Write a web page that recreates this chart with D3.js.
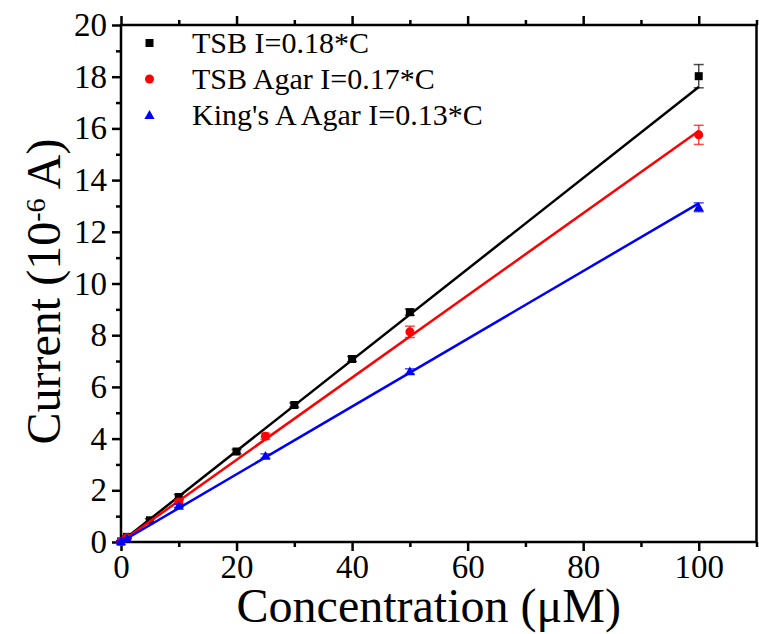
<!DOCTYPE html>
<html>
<head>
<meta charset="utf-8">
<script src="https://cdn.jsdelivr.net/npm/d3@7"></script>
<style>
  body { margin: 0; background: #fff; }
  svg text { font-family: "Liberation Serif", "Times New Roman", serif; fill: #000; }
</style>
</head>
<body>
<div id="chart"></div>
<script>
// Series (concentration in uM, current in 1e-6 A)
const tsbConc = [0, 1, 5, 10, 20, 30, 40, 50, 100];
const tsbCurrent = [0.02, 0.2, 0.84, 1.74, 3.5, 5.3, 7.08, 8.89, 18.02];
const tsbErr = [0.03, 0.04, 0.06, 0.1, 0.08, 0.08, 0.1, 0.12, 0.45];

const agarConc = [0, 1, 10, 25, 50, 100];
const agarCurrent = [0.02, 0.17, 1.55, 4.09, 8.13, 15.75];
const agarErr = [0.02, 0.03, 0.08, 0.12, 0.22, 0.37];

const kingsConc = [0, 1, 10, 25, 50, 100];
const kingsCurrent = [0.03, 0.14, 1.4, 3.33, 6.6, 12.95];
const kingsErr = [0.02, 0.03, 0.06, 0.08, 0.1, 0.17];

// Fitted lines: start and end points
const tsbFit = [[0, 0], [100, 17.6]];
const agarFit = [[0, 0], [100, 15.9]];
const kingsFit = [[0, 0], [100, 13.1]];

const legendLabels = ["TSB I=0.18*C", "TSB Agar I=0.17*C", "King's A Agar I=0.13*C"];
const seriesColors = ["#000000", "#ff0000", "#0000ff"];
const seriesShapes = ["square", "circle", "triangle"];

const xMajorTicks = [0, 20, 40, 60, 80, 100];
const xMinorTicks = [10, 30, 50, 70, 90, 110];
const yMajorTicks = [0, 2, 4, 6, 8, 10, 12, 14, 16, 18, 20];
const yMinorTicks = [1, 3, 5, 7, 9, 11, 13, 15, 17, 19];

const WIDTH = 759;
const HEIGHT = 634;
const MARGIN = { top: 25, right: 2.5, bottom: 92, left: 121 };
const SERIF = '"Liberation Serif", "Times New Roman", serif';

const innerWidth = WIDTH - MARGIN.left - MARGIN.right;
const innerHeight = HEIGHT - MARGIN.top - MARGIN.bottom;

const svg = d3.select("#chart")
    .append("svg")
    .attr("width", WIDTH)
    .attr("height", HEIGHT);

const g = svg.append("g")
    .attr("transform", `translate(${MARGIN.left},${MARGIN.top})`);

const x = d3.scaleLinear().domain([0, 110]).range([0, innerWidth]);
const y = d3.scaleLinear().domain([0, 20]).range([innerHeight, 0]);

// --------------- AXES ---------------
function styleAxis(sel) {
    sel.attr("font-family", SERIF);
    sel.select(".domain").remove();
    sel.selectAll(".tick line").attr("stroke", "#000").attr("stroke-width", 2.5);
    sel.selectAll(".tick text")
        .style("font-family", SERIF)
        .style("font-size", "33px")
        .attr("fill", "#000");
}

g.append("g")
    .attr("transform", `translate(0,${innerHeight})`)
    .call(d3.axisBottom(x).tickValues(xMajorTicks).tickSize(9).tickPadding(4).tickFormat(d3.format("d")))
    .call(styleAxis);
g.append("g")
    .attr("transform", `translate(0,${innerHeight})`)
    .call(d3.axisBottom(x).tickValues(xMinorTicks).tickSize(5).tickFormat(""))
    .call(styleAxis);

g.append("g")
    .call(d3.axisTop(x).tickValues(xMajorTicks).tickSize(9).tickFormat(""))
    .call(styleAxis);
g.append("g")
    .call(d3.axisTop(x).tickValues(xMinorTicks).tickSize(5).tickFormat(""))
    .call(styleAxis);

g.append("g")
    .call(d3.axisLeft(y).tickValues(yMajorTicks).tickSize(9).tickPadding(5).tickFormat(d3.format("d")))
    .call(styleAxis);
g.append("g")
    .call(d3.axisLeft(y).tickValues(yMinorTicks).tickSize(5).tickFormat(""))
    .call(styleAxis);

// Frame
g.append("rect")
    .attr("x", 0)
    .attr("y", 0)
    .attr("width", innerWidth)
    .attr("height", innerHeight)
    .attr("fill", "none")
    .attr("stroke", "#000")
    .attr("stroke-width", 2.5);

// Axis titles
svg.append("text")
    .attr("x", MARGIN.left + x(55) - 10)
    .attr("y", 622)
    .attr("text-anchor", "middle")
    .style("font-size", "48px")
    .text("Concentration (\u03BCM)");

const yTitle = svg.append("text")
    .attr("transform", `translate(60,${MARGIN.top + innerHeight / 2 + 8}) rotate(-90)`)
    .attr("text-anchor", "middle")
    .style("font-size", "48px");
yTitle.append("tspan").text("Current (10");
yTitle.append("tspan").attr("dy", "-0.55em").style("font-size", "28px").text("-6");
yTitle.append("tspan").attr("dy", "0.33em").text(" A)");

// --------------- SERIES ---------------
const series = [
    { conc: tsbConc, cur: tsbCurrent, err: tsbErr, fit: tsbFit },
    { conc: agarConc, cur: agarCurrent, err: agarErr, fit: agarFit },
    { conc: kingsConc, cur: kingsCurrent, err: kingsErr, fit: kingsFit }
];

const line = d3.line().x(d => x(d[0])).y(d => y(d[1]));

function drawMarker(sel, shape, color, px, py) {
    if (shape === "square") {
        sel.append("rect")
            .attr("x", px - 4).attr("y", py - 4)
            .attr("width", 8).attr("height", 8)
            .attr("fill", color);
    } else if (shape === "circle") {
        sel.append("circle")
            .attr("cx", px).attr("cy", py).attr("r", 4.5)
            .attr("fill", color);
    } else {
        sel.append("path")
            .attr("d", d3.symbol().type(d3.symbolTriangle).size(45)())
            .attr("transform", `translate(${px},${py + 1})`)
            .attr("fill", color);
    }
}

series.forEach((s, i) => {
    const color = seriesColors[i];

    g.append("path")
        .datum(s.fit)
        .attr("d", line)
        .attr("fill", "none")
        .attr("stroke", color)
        .attr("stroke-width", 2.5);

    const pts = s.conc.map((c, j) => ({ c, v: s.cur[j], e: s.err[j] }));

    // error bars
    const eb = g.append("g").attr("stroke", color).attr("stroke-opacity", 0.7).attr("stroke-width", 1.5);
    pts.forEach(p => {
        eb.append("line")
            .attr("x1", x(p.c)).attr("x2", x(p.c))
            .attr("y1", y(p.v - p.e)).attr("y2", y(p.v + p.e));
        [p.v - p.e, p.v + p.e].forEach(v => {
            eb.append("line")
                .attr("x1", x(p.c) - 5).attr("x2", x(p.c) + 5)
                .attr("y1", y(v)).attr("y2", y(v));
        });
    });

    const mk = g.append("g");
    pts.forEach(p => drawMarker(mk, seriesShapes[i], color, x(p.c), y(p.v)));
});

// --------------- LEGEND ---------------
const legendRows = [43, 79, 115];
legendLabels.forEach((label, i) => {
    drawMarker(svg, seriesShapes[i], seriesColors[i], 149.5, legendRows[i]);
    svg.append("text")
        .attr("x", 192)
        .attr("y", legendRows[i])
        .attr("dy", "0.33em")
        .style("font-size", "30px")
        .text(label);
});
</script>
</body>
</html>
